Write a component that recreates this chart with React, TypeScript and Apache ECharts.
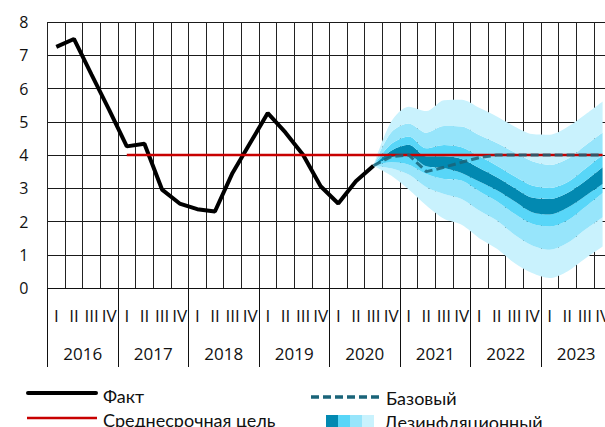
import React, { useEffect, useRef } from "react";
import * as echarts from "echarts";

const years = ["2016", "2017", "2018", "2019", "2020", "2021", "2022", "2023"];
const quarterNames = ["I", "II", "III", "IV"];

// Fact CPI, 2016Q1 .. 2020Q3
const fact = [7.25, 7.49, 6.42, 5.36, 4.26, 4.34, 2.96, 2.54, 2.37, 2.3, 3.46, 4.36, 5.26, 4.68, 4.01, 3.06, 2.54, 3.21, 3.68];
// Medium-term target from 2017Q1
const targetStart = 4;
const targetValue = 4;
// Forecast, 2020Q3 .. 2023Q4 (first point = last fact)
const forecastStart = 18;
const baseline = [3.68, 3.95, 4.0, 3.5, 3.63, 3.78, 3.92, 4.0, 4.0, 4.0, 4.0, 4.0, 4.0, 4.0];
const outerTop = [3.68, 5.0, 5.45, 5.32, 5.65, 5.66, 5.42, 5.16, 4.86, 4.63, 4.61, 4.84, 5.21, 5.61];
const band2Top = [3.68, 4.68, 4.95, 4.67, 4.87, 4.86, 4.6, 4.36, 4.08, 3.81, 3.7, 3.88, 4.28, 4.68];
const band3Top = [3.68, 4.33, 4.56, 4.2, 4.3, 4.23, 3.96, 3.68, 3.36, 3.08, 3.01, 3.18, 3.58, 4.0];
const coreTop = [3.68, 4.13, 4.31, 3.96, 3.96, 3.88, 3.61, 3.33, 3.01, 2.72, 2.68, 2.86, 3.21, 3.63];
const coreBottom = [3.68, 3.93, 3.98, 3.66, 3.61, 3.46, 3.2, 2.94, 2.61, 2.28, 2.21, 2.41, 2.76, 3.13];
const band3Bottom = [3.68, 3.78, 3.71, 3.43, 3.28, 3.23, 2.91, 2.61, 2.23, 1.93, 1.85, 2.03, 2.43, 2.86];
const band2Bottom = [3.68, 3.6, 3.41, 3.03, 2.83, 2.68, 2.33, 2.03, 1.6, 1.28, 1.15, 1.35, 1.75, 2.13];
const outerBottom = [3.68, 3.38, 2.96, 2.48, 2.08, 1.9, 1.5, 1.18, 0.75, 0.45, 0.3, 0.5, 0.88, 1.25];

const yTicks = [0, 1, 2, 3, 4, 5, 6, 7, 8];

const C_DARK = "#0289b1";
const C_MED = "#58d6f8";
const C_LM = "#97e5fb";
const C_LIGHT = "#c9f2fd";
const C_DASH = "#1a6479";
const C_RED = "#c80000";

export default function App() {
  const ref = useRef<HTMLDivElement>(null);
  useEffect(() => {
    if (!ref.current) return;
    const chart = echarts.init(ref.current, null, { renderer: "svg" });
    const categories: string[] = [];
    years.forEach((y) => quarterNames.forEach((q) => categories.push(y + " " + q)));
    const n = categories.length;
    const pad = (arr: (number | null)[], start: number) => {
      const out: (number | null)[] = new Array(n).fill(null);
      arr.forEach((v, i) => {
        if (start + i < n) out[start + i] = v;
      });
      return out;
    };
    const diff = (a: number[], b: number[]) => a.map((v, i) => +(v - b[i]).toFixed(3));
    const fanLayers = [
      { name: "base", vals: outerBottom, color: "none" },
      { name: "l1", vals: diff(band2Bottom, outerBottom), color: C_LIGHT },
      { name: "l2", vals: diff(band3Bottom, band2Bottom), color: C_LM },
      { name: "l3", vals: diff(coreBottom, band3Bottom), color: C_MED },
      { name: "l4", vals: diff(coreTop, coreBottom), color: C_DARK },
      { name: "l5", vals: diff(band3Top, coreTop), color: C_MED },
      { name: "l6", vals: diff(band2Top, band3Top), color: C_LM },
      { name: "l7", vals: diff(outerTop, band2Top), color: C_LIGHT },
    ];
    const fanSeries = fanLayers.map((l, i) => ({
      type: "line",
      name: l.name,
      stack: "fan",
      data: pad(l.vals, forecastStart),
      symbol: "none",
      smooth: 0.3,
      silent: true,
      lineStyle: { width: 0, opacity: 0 },
      areaStyle: i === 0 ? { opacity: 0 } : { color: l.color, opacity: 1 },
      z: 2,
    }));
    const targetData = categories.map((_, i) => (i >= targetStart ? targetValue : null));
    const font = "'Open Sans', sans-serif";
    const legendFont = "Lato, 'Noto Sans', sans-serif";
    const option: any = {
      animation: false,
      grid: { left: 47.5, right: 0, top: 22, bottom: 139, containLabel: false },
      xAxis: [
        {
          type: "category",
          data: categories,
          boundaryGap: true,
          axisLine: { show: true, lineStyle: { color: "#111", width: 1 } },
          axisTick: {
            show: true,
            interval: (idx: number) => idx % 4 === 0,
            length: 79,
            lineStyle: { color: "#111", width: 1 },
          },
          axisLabel: {
            interval: 0,
            margin: 19,
            fontFamily: font,
            fontSize: 17,
            color: "#111",
            formatter: (v: string) => v.split(" ")[1],
          },
          splitLine: { show: true, interval: 0, lineStyle: { color: "#222", width: 1 } },
        },
        {
          type: "category",
          data: years,
          position: "bottom",
          boundaryGap: true,
          axisLine: { show: false },
          axisTick: { show: false },
          splitLine: { show: false },
          axisLabel: { interval: 0, margin: 57, fontFamily: font, fontSize: 17, color: "#111" },
        },
      ],
      yAxis: {
        type: "value",
        min: yTicks[0],
        max: yTicks[yTicks.length - 1],
        interval: 1,
        axisLine: { show: false },
        axisTick: { show: false },
        axisLabel: { margin: 19, fontFamily: font, fontSize: 16, color: "#111" },
        splitLine: { show: true, lineStyle: { color: "#1a1a1a", width: 1 } },
      },
      series: [
        ...fanSeries,
        {
          type: "line",
          name: "Факт",
          data: fact,
          symbol: "none",
          lineStyle: { color: "#000", width: 4 },
          z: 5,
        },
        {
          type: "line",
          name: "Среднесрочная цель",
          data: targetData,
          symbol: "none",
          lineStyle: { color: C_RED, width: 2.5 },
          z: 6,
        },
        {
          type: "line",
          name: "Базовый",
          data: pad(baseline, forecastStart),
          symbol: "none",
          lineStyle: { color: C_DASH, width: 3, type: [8, 4], opacity: 0.85 },
          z: 7,
        },
      ],
      graphic: [
        { type: "line", shape: { x1: 28, y1: 393, x2: 96, y2: 393 }, style: { stroke: "#000", lineWidth: 4, lineCap: "round" } },
        { type: "text", x: 103, y: 396, style: { text: "Факт", font: `18px ${legendFont}`, fill: "#111", verticalAlign: "middle" } },
        { type: "line", shape: { x1: 27, y1: 418, x2: 97, y2: 418 }, style: { stroke: C_RED, lineWidth: 2.5 } },
        { type: "text", x: 103, y: 420, style: { text: "Среднесрочная цель", font: `18px ${legendFont}`, fill: "#111", verticalAlign: "middle" } },
        { type: "line", shape: { x1: 311, y1: 397, x2: 381, y2: 397 }, style: { stroke: C_DASH, lineWidth: 3.5, lineDash: [8, 4] } },
        { type: "text", x: 386, y: 398, style: { text: "Базовый", font: `18px ${legendFont}`, fill: "#111", verticalAlign: "middle" } },
        { type: "rect", shape: { x: 326, y: 415, width: 12, height: 15 }, style: { fill: C_DARK } },
        { type: "rect", shape: { x: 338, y: 415, width: 12, height: 15 }, style: { fill: C_MED } },
        { type: "rect", shape: { x: 350, y: 415, width: 12, height: 15 }, style: { fill: C_LM } },
        { type: "rect", shape: { x: 362, y: 415, width: 12, height: 15 }, style: { fill: C_LIGHT } },
        { type: "text", x: 384, y: 422, style: { text: "Дезинфляционный", font: `18px ${legendFont}`, fill: "#111", verticalAlign: "middle" } },
      ],
    };
    chart.setOption(option);
    return () => chart.dispose();
  }, []);
  return (
    <div style={{ width: 605, height: 427, position: "absolute", left: 0, top: 0, overflow: "hidden" }}>
      <div ref={ref} style={{ width: 613, height: 427 }} />
    </div>
  );
}
